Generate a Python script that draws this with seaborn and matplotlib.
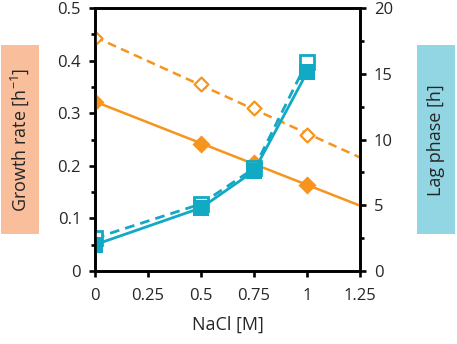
import matplotlib
matplotlib.use("Agg")
import matplotlib.pyplot as plt
import matplotlib.patches as mpatches
import seaborn as sns

# data
nacl = [0, 0.5, 0.75, 1]
growth_solid = [0.322, 0.242, 0.205, 0.163]
growth_dashed = [0.443, 0.356, 0.309, 0.259]
lag_solid = [2.0, 4.8, 7.6, 15.1]
lag_dashed = [2.5, 5.1, 7.8, 15.9]

x_ticks = [0, 0.25, 0.5, 0.75, 1, 1.25]
x_ticklabels = ["0", "0.25", "0.5", "0.75", "1", "1.25"]
left_ticks = [0, 0.1, 0.2, 0.3, 0.4, 0.5]
left_ticklabels = ["0", "0.1", "0.2", "0.3", "0.4", "0.5"]
right_ticks = [0, 5, 10, 15, 20]
right_ticklabels = ["0", "5", "10", "15", "20"]

orange = "#F7941D"
blue = "#12A9C4"
orange_box = "#F9BE9C"
blue_box = "#93D6E3"

sns.set_style("ticks")
plt.rcParams['font.family'] = ['Open Sans', 'DejaVu Sans']
plt.rcParams['mathtext.default'] = 'regular'

fig = plt.figure(figsize=(4.57, 3.44), dpi=100)
ax = fig.add_axes([95 / 457, 73 / 344, 265 / 457, 263 / 344])
ax.set_xlim(0, 1.25)
ax.set_ylim(0, 0.5)

# growth rate with linear trend lines
sns.regplot(x=nacl, y=growth_solid, ax=ax, ci=None, truncate=False, marker='D',
            color=orange, scatter_kws=dict(s=85, alpha=1, zorder=3, linewidths=0),
            line_kws=dict(lw=1.8, zorder=2))
sns.regplot(x=nacl, y=growth_dashed, ax=ax, ci=None, truncate=False, marker='D',
            color=orange, scatter_kws=dict(s=50, alpha=1, zorder=3, facecolors='white',
                                          edgecolors=orange, linewidths=1.6),
            line_kws=dict(lw=1.8, ls=(0, (3.5, 2.2)), zorder=2))
ax.set_xlim(0, 1.25)
ax.set_ylim(0, 0.5)

# lag phase on the right axis (hollow series first, filled drawn over it)
ax2 = ax.twinx()
sns.lineplot(x=nacl, y=lag_dashed, ax=ax2, color=blue, lw=2.0, ls=(0, (3.5, 2.2)),
             marker='s', markersize=9.5, markerfacecolor='white',
             markeredgecolor=blue, markeredgewidth=2.0)
sns.lineplot(x=nacl, y=lag_solid, ax=ax2, color=blue, lw=2.0, marker='s',
             markersize=11.5, markeredgewidth=0)
ax2.set_ylim(0, 20)
ax2.set_xlim(0, 1.25)

ax.set_xticks(x_ticks)
ax.set_xticklabels(x_ticklabels)
ax.set_yticks(left_ticks)
ax.set_yticklabels(left_ticklabels)
ax.set_yticks([0.05, 0.15, 0.25, 0.35, 0.45], minor=True)
ax2.set_yticks(right_ticks)
ax2.set_yticklabels(right_ticklabels)
ax2.set_yticks([2.5, 7.5, 12.5, 17.5], minor=True)

for a in (ax, ax2):
    for s in a.spines.values():
        s.set_linewidth(1.9)
        s.set_color('black')
    a.tick_params(which='major', direction='out', length=4, width=1.9,
                  labelsize=12, pad=6, color='black')
    a.tick_params(which='minor', direction='out', length=3, width=1.9, color='black')
ax.tick_params(axis='x', which='major', pad=8)

ax.set_xlabel("NaCl [M]", fontsize=13, labelpad=9)
ax.set_ylabel("")
ax2.set_ylabel("")

# coloured axis-title boxes
fig.add_artist(mpatches.Rectangle((1 / 457, 110 / 344), 38 / 457, 189 / 344,
                                  transform=fig.transFigure, facecolor=orange_box,
                                  edgecolor='none'))
fig.add_artist(mpatches.Rectangle((417 / 457, 110 / 344), 38 / 457, 189 / 344,
                                  transform=fig.transFigure, facecolor=blue_box,
                                  edgecolor='none'))
fig.text(20 / 457, 204 / 344, "Growth rate [h$^{-1}$]", rotation=90, fontsize=13,
         ha='center', va='center')
fig.text(436 / 457, 204 / 344, "Lag phase [h]", rotation=90, fontsize=13,
         ha='center', va='center')

plt.savefig("out.png", dpi=100)
